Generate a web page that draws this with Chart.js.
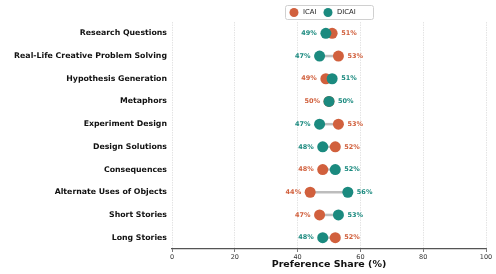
<!DOCTYPE html>
<html>
<head>
<meta charset="utf-8">
<script src="https://cdn.jsdelivr.net/npm/chart.js@4.4.1/dist/chart.umd.min.js"></script>
<style>
  body { margin: 0; background: #fff; }
  #wrap { width: 496px; height: 274px; }
</style>
</head>
<body>
<div id="wrap"><canvas id="myChart" width="496" height="274"></canvas></div>
<script>
// categorias, de arriba hacia abajo
const categorias = [
  'Research Questions',
  'Real-Life Creative Problem Solving',
  'Hypothesis Generation',
  'Metaphors',
  'Experiment Design',
  'Design Solutions',
  'Consequences',
  'Alternate Uses of Objects',
  'Short Stories',
  'Long Stories'
];
const icai  = [51, 53, 49, 50, 53, 52, 48, 44, 47, 52];
const dicai = [49, 47, 51, 50, 47, 48, 52, 56, 53, 48];
const xTicks = [0, 20, 40, 60, 80, 100];

const colorICAI = '#d1603d';
const colorDICAI = '#1b8a7f';
const fuente = 'DejaVu Sans';

// lineas grises entre los dos puntos + etiquetas con porcentajes
const conectores = {
  id: 'conectores',
  beforeDatasetsDraw(chart) {
    const { ctx, scales: { x, y } } = chart;
    ctx.save();
    ctx.strokeStyle = '#bdbdbd';
    ctx.lineWidth = 2.5;
    categorias.forEach((c, i) => {
      const py = y.getPixelForValue(i);
      ctx.beginPath();
      ctx.moveTo(x.getPixelForValue(icai[i]), py);
      ctx.lineTo(x.getPixelForValue(dicai[i]), py);
      ctx.stroke();
    });
    ctx.restore();
  },
  afterDatasetsDraw(chart) {
    const { ctx, scales: { x, y } } = chart;
    ctx.save();
    ctx.font = 'bold 6.5px "' + fuente + '"';
    ctx.textBaseline = 'middle';
    const off = 9;
    categorias.forEach((c, i) => {
      const py = y.getPixelForValue(i);
      const icaiIzq = icai[i] <= dicai[i];
      const izq = icaiIzq ? { v: icai[i], col: colorICAI } : { v: dicai[i], col: colorDICAI };
      const der = icaiIzq ? { v: dicai[i], col: colorDICAI } : { v: icai[i], col: colorICAI };
      ctx.fillStyle = izq.col;
      ctx.textAlign = 'right';
      ctx.fillText(izq.v + '%', x.getPixelForValue(izq.v) - off, py);
      ctx.fillStyle = der.col;
      ctx.textAlign = 'left';
      ctx.fillText(der.v + '%', x.getPixelForValue(der.v) + off, py);
    });
    ctx.restore();
  },
  afterDraw(chart) {
    // leyenda con recuadro, centrada sobre el area del grafico
    const { ctx, chartArea } = chart;
    const cx = (chartArea.left + chartArea.right) / 2;
    const w = 88, h = 14, top = 5;
    const left = cx - w / 2;
    ctx.save();
    ctx.strokeStyle = '#d0d0d0';
    ctx.lineWidth = 1;
    ctx.fillStyle = '#fff';
    ctx.beginPath();
    ctx.roundRect(left + 0.5, top + 0.5, w, h, 2);
    ctx.fill();
    ctx.stroke();
    ctx.font = '6.8px "' + fuente + '"';
    ctx.textBaseline = 'middle';
    ctx.textAlign = 'left';
    const my = top + h / 2 + 0.5;
    [[colorICAI, 'ICAI', left + 9], [colorDICAI, 'DICAI', left + 43]].forEach(([col, txt, mx]) => {
      ctx.fillStyle = col;
      ctx.beginPath();
      ctx.arc(mx, my, 4.5, 0, Math.PI * 2);
      ctx.fill();
      ctx.fillStyle = '#222';
      ctx.fillText(txt, mx + 9, my);
    });
    ctx.restore();
  }
};

const ctx = document.getElementById('myChart');
new Chart(ctx, {
  type: 'scatter',
  data: {
    datasets: [
      {
        label: 'ICAI',
        data: icai.map((v, i) => ({ x: v, y: i })),
        backgroundColor: colorICAI,
        borderColor: colorICAI,
        pointRadius: 5.5,
        borderWidth: 0,
        order: 2
      },
      {
        label: 'DICAI',
        data: dicai.map((v, i) => ({ x: v, y: i })),
        backgroundColor: colorDICAI,
        borderColor: colorDICAI,
        pointRadius: 5.5,
        borderWidth: 0,
        order: 1
      }
    ]
  },
  plugins: [conectores],
  options: {
    responsive: false,
    animation: false,
    layout: { padding: { top: 22, right: 10, bottom: 0, left: 0 } },
    plugins: {
      legend: { display: false },
      tooltip: { enabled: false }
    },
    scales: {
      x: {
        type: 'linear',
        min: 0,
        max: 100,
        afterBuildTicks(scale) { scale.ticks = xTicks.map(v => ({ value: v })); },
        afterFit(scale) { scale.height = 25; },
        grid: {
          color: '#dddddd',
          lineWidth: 0.8,
          tickLength: 3,
          tickColor: '#555',
          drawTicks: true
        },
        border: { color: '#555', width: 1.2, dash: [1.5, 1] },
        ticks: {
          padding: 1,
          color: '#333',
          font: { family: fuente, size: 6.5 }
        },
        title: {
          display: true,
          text: 'Preference Share (%)',
          color: '#111',
          font: { family: fuente, size: 9.5, weight: 'bold' },
          padding: { top: 2, bottom: 4 }
        }
      },
      y: {
        type: 'linear',
        reverse: true,
        min: -0.5,
        max: categorias.length - 0.5,
        afterBuildTicks(scale) { scale.ticks = categorias.map((c, i) => ({ value: i })); },
        afterFit(scale) { scale.width = 172; },
        grid: { display: false, drawTicks: false },
        border: { display: false },
        ticks: {
          padding: 5,
          color: '#111',
          font: { family: fuente, size: 7.8, weight: 'bold' },
          callback: (v) => categorias[v]
        }
      }
    }
  }
});
</script>
</body>
</html>
